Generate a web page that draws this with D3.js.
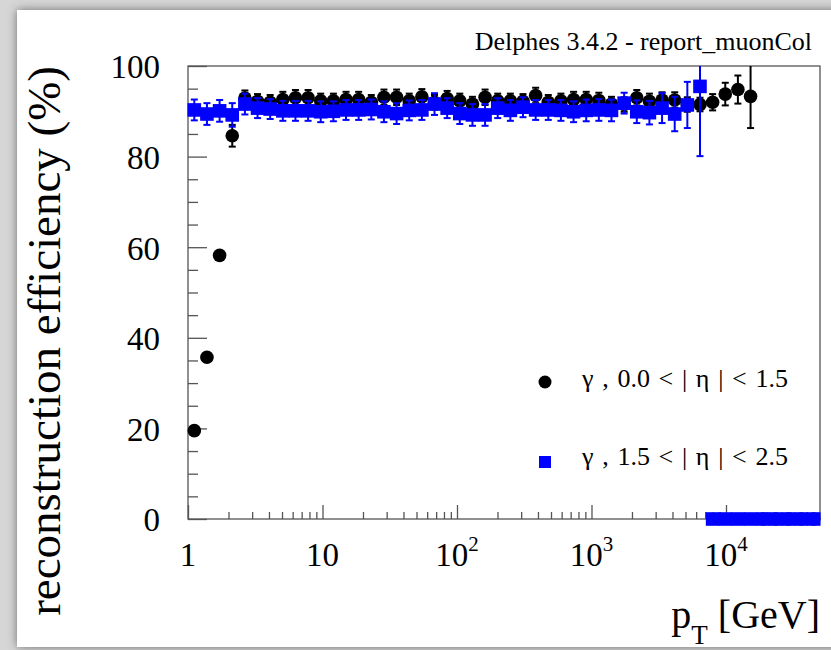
<!DOCTYPE html>
<html>
<head>
<meta charset="utf-8">
<script src="https://cdn.jsdelivr.net/npm/d3@7"></script>
<style>
  body { margin: 0; background: #d4d4d4; }
  svg { display: block; }
  text { font-family: "Liberation Serif", "DejaVu Serif", serif; fill: #000; }
</style>
</head>
<body>
<svg id="chart"></svg>
<script>
// bin centres in pT [GeV] (50 log bins, 1 - 5e4)
var ptBins = [1.114, 1.383, 1.718, 2.133, 2.649, 3.289, 4.083, 5.070, 6.295, 7.815,
  9.70, 12.05, 14.96, 18.57, 23.06, 28.63, 35.55, 44.14, 54.81, 68.05,
  84.49, 104.9, 130.3, 161.7, 200.8, 249.4, 309.6, 384.4, 477.3, 592.6,
  735.8, 913.6, 1134, 1408, 1749, 2171, 2696, 3347, 4156, 5160,
  6407, 7955, 9877, 12260, 15230, 18910, 23480, 29150, 36190, 44940];

// gamma, 0.0 < |eta| < 1.5  (black)
var effCentral = [19.5, 35.7, 58.2, 84.6, 92.9, 92.2, 92.0, 92.6, 93.0, 93.0,
  92.3, 92.3, 92.6, 92.6, 92.0, 93.1, 93.1, 92.3, 93.2, 92.0,
  92.8, 92.3, 91.6, 93.1, 92.3, 92.3, 92.2, 93.5, 92.0, 92.3,
  92.6, 92.6, 92.4, 91.6, 91.5, 93.0, 92.2, 92.5, 92.5, 91.5,
  91.5, 92.0, 93.8, 94.8, 93.3, 0, 0, 0, 0, 0];
var errCentral = [0.8, 0.8, 0.9, 2.4, 1.7, 1.6, 1.6, 1.7, 1.7, 1.7,
  1.6, 1.6, 1.7, 1.7, 1.6, 1.7, 1.7, 1.6, 1.7, 1.6,
  1.7, 1.6, 1.6, 1.7, 1.6, 1.6, 1.6, 1.7, 1.6, 1.6,
  1.7, 1.7, 1.7, 1.6, 1.6, 1.7, 1.7, 1.7, 1.7, 1.6,
  1.5, 1.8, 2.5, 3.1, 7.0, 0, 0, 0, 0, 0];

// gamma, 1.5 < |eta| < 2.5  (blue)
var effForward = [90.3, 89.4, 90.1, 89.2, 91.6, 90.7, 90.5, 90.1, 90.1, 90.1,
  89.9, 90.0, 90.3, 90.3, 90.4, 89.9, 89.5, 90.2, 90.3, 91.6,
  90.7, 89.5, 89.2, 89.2, 90.7, 90.2, 90.9, 90.3, 90.3, 90.2,
  89.9, 90.2, 90.3, 90.2, 91.8, 89.9, 89.7, 90.7, 89.4, 91.4,
  95.5, 0, 0, 0, 0, 0, 0, 0, 0, 0];
var errForward = [2.3, 2.4, 2.4, 2.6, 2.3, 2.2, 2.2, 2.2, 2.2, 2.2,
  2.3, 2.2, 2.2, 2.2, 2.2, 2.3, 2.3, 2.2, 2.2, 2.4,
  2.2, 2.3, 2.4, 2.4, 2.2, 2.3, 2.2, 2.2, 2.2, 2.3,
  2.3, 2.4, 2.4, 2.4, 2.3, 2.5, 2.6, 3.3, 3.8, 5.1,
  15.4, 0, 0, 0, 0, 0, 0, 0, 0, 0];

var xMajor = [1, 10, 100, 1000, 10000];
var xLabels = [["1", ""], ["10", ""], ["10", "2"], ["10", "3"], ["10", "4"]];
var yMajor = [0, 20, 40, 60, 80, 100];
var legendLabels = ["\u03b3 , 0.0 < | \u03b7 | < 1.5", "\u03b3 , 1.5 < | \u03b7 | < 2.5"];

/*********layout************/
var width = 831, height = 650;
var frame = {left: 188, right: 820, top: 66, bottom: 519};
var axisColor = '#555';

var svg = d3.select('#chart').attr('width', width).attr('height', height);

// window-like panel with a soft shadow
var defs = svg.append('defs');
var sh = defs.append('filter').attr('id', 'shadow')
  .attr('x', '-5%').attr('y', '-5%').attr('width', '110%').attr('height', '110%');
sh.append('feDropShadow').attr('dx', 0).attr('dy', 0)
  .attr('stdDeviation', 5).attr('flood-color', '#555').attr('flood-opacity', 0.8);
defs.append('clipPath').attr('id', 'frameClip').append('rect')
  .attr('x', frame.left).attr('y', frame.top)
  .attr('width', frame.right - frame.left).attr('height', frame.bottom - frame.top);

svg.append('rect').attr('width', width).attr('height', height).attr('fill', '#d6d6d6');
svg.append('rect').attr('x', 17).attr('y', 10).attr('width', 840).attr('height', 637)
  .attr('fill', '#fff').attr('filter', 'url(#shadow)');

var x = d3.scaleLog().domain([1, 5e4]).range([frame.left, frame.right]);
var y = d3.scaleLinear().domain([0, 100]).range([frame.bottom, frame.top]);

/*********axes************/
var xMinor = [];
xMajor.forEach(function(d) {
  for (var k = 2; k <= 9; k++) { if (d * k < 5e4) xMinor.push(d * k); }
});
var yMinor = d3.range(0, 101, 5).filter(function(d) { return d % 20 !== 0; });

function styleAxis(g) {
  g.select('.domain').remove();
  g.selectAll('line').attr('stroke', axisColor).attr('stroke-width', 1.3);
}

svg.append('g').attr('transform', 'translate(0,' + frame.bottom + ')')
  .call(d3.axisBottom(x).tickValues(xMinor).tickSize(-7).tickFormat(''))
  .call(styleAxis);
svg.append('g').attr('transform', 'translate(0,' + frame.bottom + ')')
  .call(d3.axisBottom(x).tickValues(xMajor).tickSize(-14).tickFormat(''))
  .call(styleAxis);
svg.append('g').attr('transform', 'translate(' + frame.left + ',0)')
  .call(d3.axisLeft(y).tickValues(yMinor).tickSize(-10).tickFormat(''))
  .call(styleAxis);
var yAxisG = svg.append('g').attr('transform', 'translate(' + frame.left + ',0)')
  .call(d3.axisLeft(y).tickValues(yMajor).tickSize(-19).tickPadding(28))
  .call(styleAxis);
yAxisG.selectAll('text').attr('font-size', 33).attr('dy', '0.36em')
  .attr('font-family', '"Liberation Serif", serif').attr('fill', '#000');

// x tick labels with superscripts
var xl = svg.append('g').selectAll('text').data(xMajor).enter().append('text')
  .attr('x', function(d) { return x(d); })
  .attr('y', 566)
  .attr('text-anchor', 'middle')
  .attr('font-size', 33);
xl.append('tspan').text(function(d, i) { return xLabels[i][0]; });
xl.append('tspan').attr('dy', -15).attr('font-size', 21)
  .text(function(d, i) { return xLabels[i][1]; });

// frame
svg.append('rect').attr('x', frame.left).attr('y', frame.top)
  .attr('width', frame.right - frame.left).attr('height', frame.bottom - frame.top)
  .attr('fill', 'none').attr('stroke', axisColor).attr('stroke-width', 1.3);

/*********titles************/
svg.append('text').attr('x', 812).attr('y', 50).attr('text-anchor', 'end')
  .attr('font-size', 26).text('Delphes 3.4.2 - report_muonCol');

svg.append('text').attr('transform', 'translate(60,' + frame.top + ') rotate(-90)')
  .attr('text-anchor', 'end').attr('font-size', 47)
  .text('reconstruction efficiency (%)');

var xt = svg.append('text').attr('x', frame.right).attr('y', 628)
  .attr('text-anchor', 'end').attr('font-size', 40);
xt.append('tspan').text('p');
xt.append('tspan').attr('dy', 16).attr('font-size', 27).text('T');
xt.append('tspan').attr('dy', -16).text(' [GeV]');

/*********data************/
function buildSeries(vals, errs) {
  return ptBins.map(function(p, i) { return {pt: p, v: vals[i], e: errs[i]}; })
    .filter(function(d) { return d.v !== undefined; });
}
var central = buildSeries(effCentral, errCentral);
var forward = buildSeries(effForward, errForward);

function drawErrors(data, color) {
  var g = svg.append('g').attr('clip-path', 'url(#frameClip)')
    .attr('stroke', color).attr('stroke-width', 2);
  var eb = g.selectAll('g').data(data.filter(function(d) { return d.e > 0; }))
    .enter().append('g');
  eb.append('line')
    .attr('x1', function(d) { return x(d.pt); }).attr('x2', function(d) { return x(d.pt); })
    .attr('y1', function(d) { return y(d.v - d.e); }).attr('y2', function(d) { return y(d.v + d.e); });
  [-1, 1].forEach(function(s) {
    eb.append('line')
      .attr('x1', function(d) { return x(d.pt) - 3.5; }).attr('x2', function(d) { return x(d.pt) + 3.5; })
      .attr('y1', function(d) { return y(d.v + s * d.e); }).attr('y2', function(d) { return y(d.v + s * d.e); });
  });
}

// black series first, blue on top
drawErrors(central, '#000');
svg.append('g').selectAll('circle').data(central).enter().append('circle')
  .attr('cx', function(d) { return x(d.pt); })
  .attr('cy', function(d) { return y(d.v); })
  .attr('r', 6.8).attr('fill', '#000');

drawErrors(forward, '#0000ff');
svg.append('g').selectAll('rect').data(forward).enter().append('rect')
  .attr('x', function(d) { return x(d.pt) - 6.8; })
  .attr('y', function(d) { return y(d.v) - 6.8; })
  .attr('width', 13.6).attr('height', 13.6).attr('fill', '#0000ff');

/*********legend************/
var leg = svg.append('g');
leg.append('circle').attr('cx', 545).attr('cy', 382).attr('r', 6.5).attr('fill', '#000');
leg.append('rect').attr('x', 539).attr('y', 456).attr('width', 12).attr('height', 12).attr('fill', '#0000ff');
leg.selectAll('text').data(legendLabels).enter().append('text')
  .attr('x', 582)
  .attr('y', function(d, i) { return i === 0 ? 387 : 465; })
  .attr('font-size', 26)
  .attr('word-spacing', 2.2)
  .attr('xml:space', 'preserve')
  .text(function(d) { return d; });
</script>
</body>
</html>
